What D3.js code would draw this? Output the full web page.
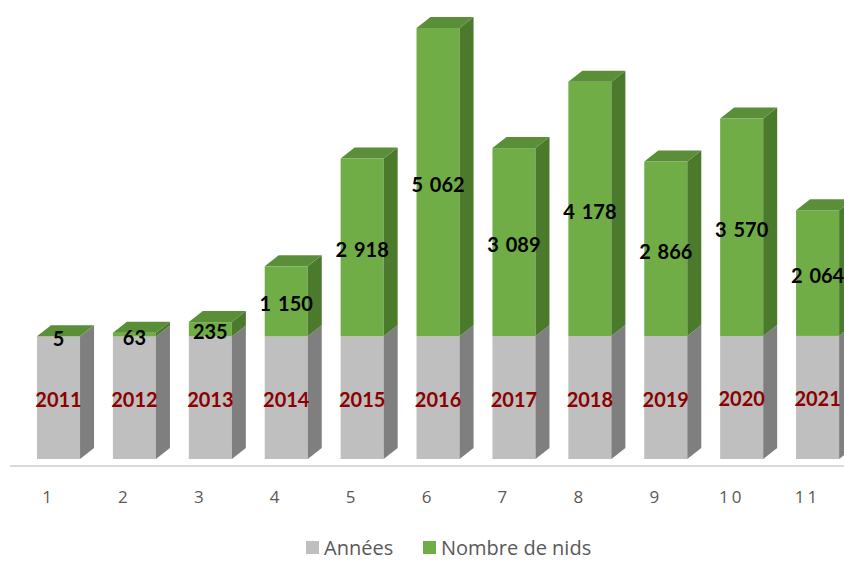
<!DOCTYPE html>
<html>
<head>
<meta charset="utf-8">
<script src="https://cdn.jsdelivr.net/npm/d3@7"></script>
<style>
  body { margin: 0; background: #fff; }
  svg { display: block; }
</style>
</head>
<body>
<div id="chart"></div>
<script>
const categories = ['1', '2', '3', '4', '5', '6', '7', '8', '9', '10', '11']
const annees = [2011, 2012, 2013, 2014, 2015, 2016, 2017, 2018, 2019, 2020, 2021]
const nids = [5, 63, 235, 1150, 2918, 5062, 3089, 4178, 2866, 3570, 2064]
const seriesNames = ['Années', 'Nombre de nids']

const W = 844, H = 561
const DEPTH = { dx: 14, dy: -11 }
const COLORS = {
  gray:  { front: '#bfbfbf', side: '#7f7f7f', top: '#a6a6a6' },
  green: { front: '#70ad47', side: '#4b7a2c', top: '#5b8e39' },
}

const svg = d3.select('#chart').append('svg')
  .attr('width', W)
  .attr('height', H)

const x = d3.scaleBand().domain(categories).range([37, 839.1]).paddingInner(0.433).paddingOuter(0)
const y = d3.scaleLinear().domain([0, 7078]).range([459, 28])

const fmt = v => d3.format(',')(v).replace(/,/g, ' ')

// ── axis line ────────────────────────────────────────────────
svg.append('line')
  .attr('x1', 10).attr('x2', W)
  .attr('y1', 466).attr('y2', 466)
  .attr('stroke', '#d9d9d9').attr('stroke-width', 2)

const data = categories.map((c, i) => ({ c, year: annees[i], n: nids[i] }))

function drawBox(g, x0, w, y0, y1, col, withTop) {
  const { dx, dy } = DEPTH
  g.append('rect')
    .attr('x', x0).attr('y', y1)
    .attr('width', w).attr('height', y0 - y1)
    .attr('fill', col.front)
  g.append('polygon')
    .attr('points', [[x0 + w, y1], [x0 + w + dx, y1 + dy], [x0 + w + dx, y0 + dy], [x0 + w, y0]].join(' '))
    .attr('fill', col.side)
  if (withTop) {
    g.append('polygon')
      .attr('points', [[x0, y1], [x0 + dx, y1 + dy], [x0 + w + dx, y1 + dy], [x0 + w, y1]].join(' '))
      .attr('fill', col.top)
  }
}

// ── bars ─────────────────────────────────────────────────────
const bars = svg.append('g').attr('class', 'bars')
data.forEach(d => {
  const g = bars.append('g')
  const x0 = x(d.c), w = x.bandwidth()
  drawBox(g, x0, w, y(0), y(d.year), COLORS.gray, false)
  drawBox(g, x0, w, y(d.year), y(d.year + d.n), COLORS.green, true)
})

// ── labels ───────────────────────────────────────────────────
const labels = svg.append('g').attr('class', 'labels')
  .style('font-family', 'Lato, "Open Sans", sans-serif')
  .style('font-weight', 'bold')
  .style('font-size', '20px')
  .attr('text-anchor', 'middle')
  .attr('dominant-baseline', 'central')

labels.selectAll('text.year').data(data).enter().append('text')
  .attr('class', 'year')
  .attr('x', d => x(d.c) + x.bandwidth() / 2)
  .attr('y', d => (y(0) + y(d.year)) / 2 + 1)
  .attr('fill', '#8b0000')
  .text(d => d.year)

labels.selectAll('text.nids').data(data).enter().append('text')
  .attr('class', 'nids')
  .attr('x', d => x(d.c) + x.bandwidth() / 2)
  .attr('y', d => (y(d.year) + y(d.year + d.n)) / 2 + 2)
  .attr('fill', '#000')
  .style('word-spacing', '2px')
  .text(d => fmt(d.n))

// ── category ticks ───────────────────────────────────────────
svg.append('g').selectAll('text').data(categories).enter().append('text')
  .attr('x', d => x(d) + x.bandwidth() / 2 - 10)
  .attr('y', 503)
  .attr('text-anchor', 'middle')
  .style('font-family', '"Open Sans", sans-serif')
  .style('font-size', '17px')
  .style('letter-spacing', '3px')
  .attr('fill', '#595959')
  .text(d => d)

// ── legend ───────────────────────────────────────────────────
const legend = svg.append('g')
  .style('font-family', '"Open Sans", sans-serif')
  .style('font-size', '20px')
  .attr('fill', '#595959')
const legendX = [306, 423]
const legendCols = [COLORS.gray.front, COLORS.green.front]
seriesNames.forEach((name, i) => {
  legend.append('rect')
    .attr('x', legendX[i]).attr('y', 541)
    .attr('width', 13).attr('height', 13)
    .attr('fill', legendCols[i])
  legend.append('text')
    .attr('x', legendX[i] + 18).attr('y', 555)
    .text(name)
})
</script>
</body>
</html>
